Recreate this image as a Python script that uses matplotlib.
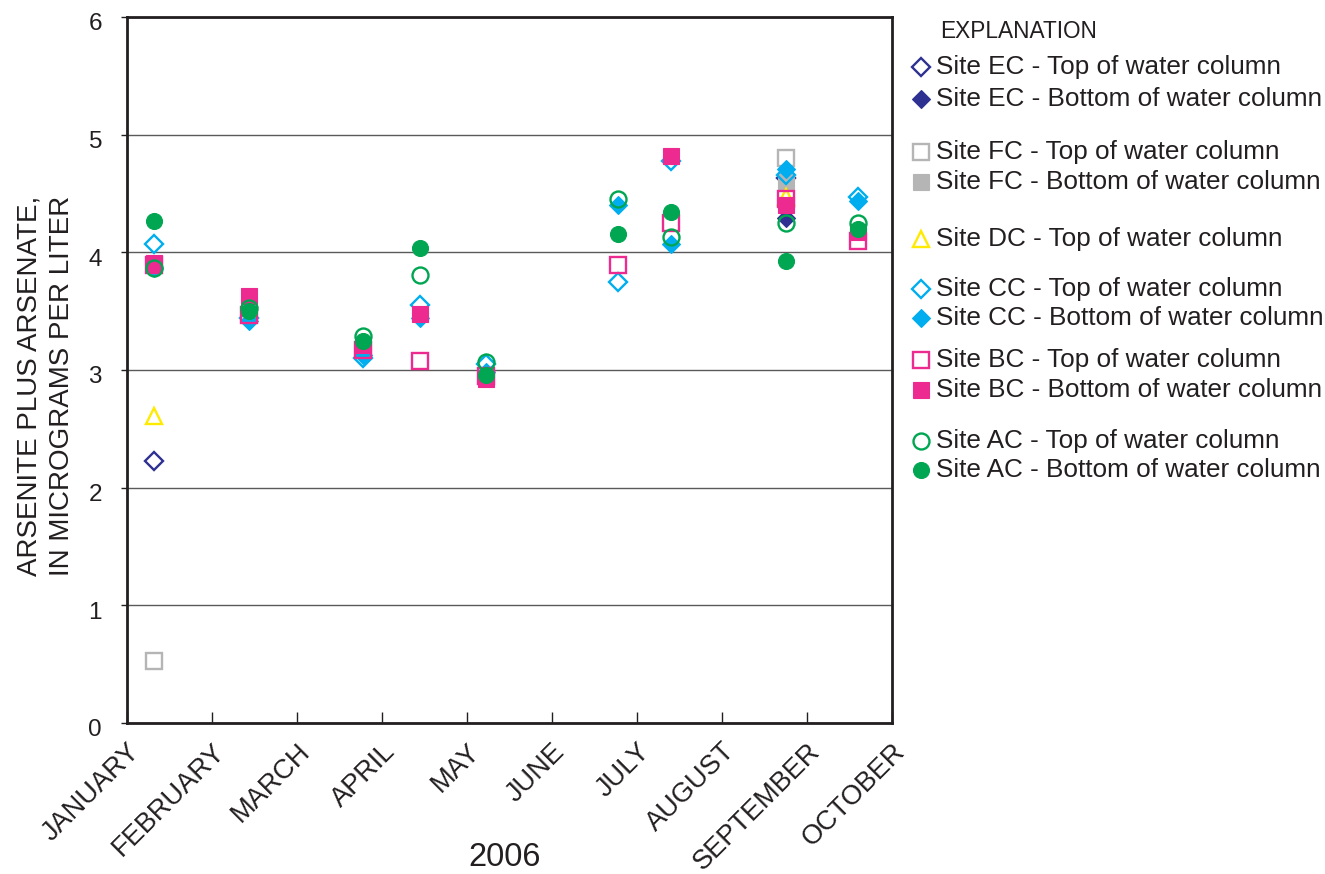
import matplotlib
matplotlib.use("Agg")
import matplotlib.pyplot as plt
from matplotlib.lines import Line2D
from matplotlib.transforms import ScaledTranslation

plt.rcParams['font.family'] = ['Liberation Sans', 'DejaVu Sans']

# x axis: month index (1 = start of January ... 10 = start of October)
month_labels = ["JANUARY", "FEBRUARY", "MARCH", "APRIL", "MAY", "JUNE",
                "JULY", "AUGUST", "SEPTEMBER", "OCTOBER"]
sample_months = [1.32, 2.44, 3.78, 4.45, 5.22, 6.78, 7.40, 8.75, 9.60]

N = None
ec_top    = [2.23, N, N, N, N, N, N, 4.63, N]
ec_bottom = [N, N, N, N, N, N, N, 4.29, N]
fc_top    = [0.53, N, N, N, N, N, N, 4.80, N]
fc_bottom = [N, N, N, N, N, N, N, 4.61, N]
dc_top    = [2.61, N, N, N, N, N, N, 4.47, N]
cc_top    = [4.07, 3.44, 3.10, 3.55, 3.05, 3.75, 4.78, 4.66, 4.47]
cc_bottom = [3.87, 3.42, 3.13, 3.44, 2.98, 4.40, 4.07, 4.71, 4.44]
bc_top    = [3.89, 3.47, 3.17, 3.08, 2.95, 3.89, 4.25, 4.45, 4.10]
bc_bottom = [3.91, 3.63, 3.21, 3.48, 2.92, N, 4.82, 4.40, 4.17]
ac_top    = [3.87, 3.53, 3.29, 3.81, 3.07, 4.45, 4.13, 4.25, 4.25]
ac_bottom = [4.27, 3.50, 3.25, 4.04, 2.96, 4.16, 4.34, 3.93, 4.20]

NAVY = "#2E3192"
GRAY = "#B5B5B5"
YELLOW = "#FFEB00"
CYAN = "#00AEEF"
MAGENTA = "#EC2A8F"
GREEN = "#00A651"

# label, values, marker, color, face, size
series = [
    ("Site EC - Top of water column", ec_top, "D", NAVY, "none", 9),
    ("Site EC - Bottom of water column", ec_bottom, "D", NAVY, NAVY, 9),
    ("Site FC - Top of water column", fc_top, "s", GRAY, "none", 11),
    ("Site FC - Bottom of water column", fc_bottom, "s", GRAY, GRAY, 11),
    ("Site DC - Top of water column", dc_top, "^", YELLOW, "white", 12),
    ("Site CC - Top of water column", cc_top, "D", CYAN, "none", 9),
    ("Site CC - Bottom of water column", cc_bottom, "D", CYAN, CYAN, 9),
    ("Site BC - Top of water column", bc_top, "s", MAGENTA, "none", 11),
    ("Site BC - Bottom of water column", bc_bottom, "s", MAGENTA, MAGENTA, 11),
    ("Site AC - Top of water column", ac_top, "o", GREEN, "none", 11.5),
    ("Site AC - Bottom of water column", ac_bottom, "o", GREEN, GREEN, 11.5),
]
draw_order = [2, 3, 7, 8, 4, 5, 6, 0, 1, 9, 10]

W, H = 1325, 874
fig = plt.figure(figsize=(W / 100, H / 100), dpi=100)
ax = fig.add_axes([127 / W, 1 - 723 / H, (892 - 127) / W, (723 - 17) / H])

def mew(face):
    return 1.7 if face in ("none", "white") else 0.8

for i in draw_order:
    label, vals, mk, col, face, ms = series[i]
    xs = [x for x, v in zip(sample_months, vals) if v is not None]
    ys = [v for v in vals if v is not None]
    ax.plot(xs, ys, linestyle="none", marker=mk, markersize=ms,
            markerfacecolor=face, markeredgecolor=col,
            markeredgewidth=mew(face), zorder=3 + i * 0.01)

ax.set_xlim(1, 10)
ax.set_ylim(0, 6)
ax.set_yticks(range(0, 7))
ax.set_xticks(range(1, 11))
ax.set_xticklabels(month_labels, rotation=45, ha="right", va="top",
                   rotation_mode="anchor")
ax.tick_params(axis="x", direction="in", length=8, width=1, pad=11,
               labelsize=19.5, colors="#231F20")
ax.tick_params(axis="y", direction="out", length=4, width=1, pad=14,
               labelsize=17.5, colors="#231F20")
off = ScaledTranslation(0, -5 / 100, fig.dpi_scale_trans)
for lab in ax.get_yticklabels():
    lab.set_transform(lab.get_transform() + off)
ax.yaxis.grid(True, color="#5a5a5a", linewidth=1.0)
ax.set_axisbelow(True)
for sp in ax.spines.values():
    sp.set_linewidth(2)
    sp.set_color("#231F20")

fig.text(46 / W, 1 - 386 / H,
         "ARSENITE PLUS ARSENATE,\nIN MICROGRAMS PER LITER",
         rotation=90, ha="center", va="center", fontsize=20,
         color="#231F20", linespacing=1.3)
fig.text(505 / W, 1 - 858 / H, "2006", ha="center", va="center",
         fontsize=23.5, color="#231F20")

# Explanation (legend) drawn manually
fig.text(940 / W, 1 - 31 / H, "EXPLANATION", ha="left", va="center",
         fontsize=16.3, color="#231F20")
legend_y = [67, 99, 152, 182, 239, 289, 318, 360, 390, 441, 470]
for (label, vals, mk, col, face, ms), yp in zip(series, legend_y):
    fig.add_artist(Line2D([921 / W], [1 - yp / H], transform=fig.transFigure,
                          linestyle="none", marker=mk, markersize=ms,
                          markerfacecolor=face, markeredgecolor=col,
                          markeredgewidth=mew(face)))
    fig.text(936 / W, 1 - yp / H, label, ha="left", va="center",
             fontsize=18.8, color="#231F20")

fig.savefig("out.png", dpi=100)
